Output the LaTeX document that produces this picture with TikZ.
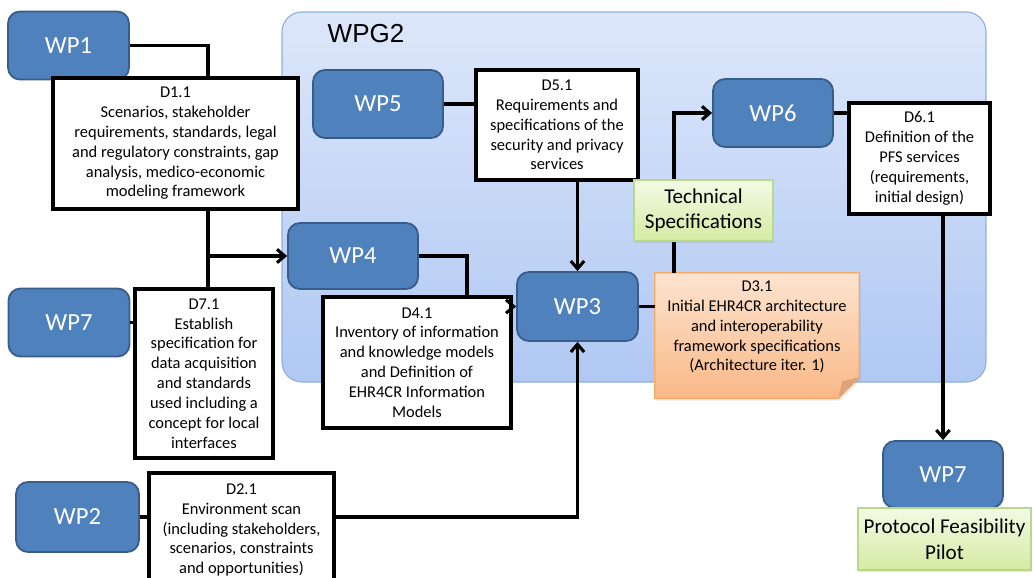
\documentclass[tikz,border=0pt]{standalone}
\usepackage{fontspec}
\setmainfont{Carlito}
\newfontfamily\groupfont{Liberation Sans}
\usetikzlibrary{calc}
\usetikzlibrary{arrows.meta}
\usetikzlibrary{shadows}

\definecolor{wpblue}{HTML}{4F81BD}
\definecolor{wpedge}{HTML}{385D8A}
\definecolor{grouptop}{HTML}{DDE7FA}
\definecolor{groupbot}{HTML}{B0C8F3}
\definecolor{groupedge}{HTML}{8DB0E0}
\definecolor{notetop}{HTML}{FDE4CF}
\definecolor{notebot}{HTML}{F9B887}
\definecolor{noteedge}{HTML}{F5A868}
\definecolor{notefold}{HTML}{DDA479}
\definecolor{spectop}{HTML}{F3FAE5}
\definecolor{specbot}{HTML}{D4EBA3}
\definecolor{specedge}{HTML}{B8D98A}

\newcommand{\pxu}{0.025cm}

\tikzset{
  wp/.style={draw=wpedge, line width=1.3pt, fill=wpblue, rounded corners=0.3cm,
    text=white, font=\fontsize{17.5}{21}\selectfont,
    minimum width=121*\pxu, minimum height=68*\pxu},
  deliv/.style={draw=black, line width=2.3pt, fill=white, align=center,
    inner sep=2pt, font=\fontsize{11.7}{14.1}\selectfont},
  result/.style={draw=specedge, line width=0.8pt, top color=spectop, bottom color=specbot,
    align=center, font=\fontsize{15}{18.2}\selectfont,
    drop shadow={opacity=0.2, shadow xshift=1pt, shadow yshift=-1.5pt}},
  link/.style={line width=2.2pt},
  feed/.style={line width=2.2pt, -{Straight Barb[length=5.5pt,width=9.5pt]}},
}

\begin{document}
\begin{tikzpicture}[x=\pxu, y=-\pxu]
\useasboundingbox (0,0) rectangle (1033,578);

% Group WPG2
\node[draw=groupedge, line width=0.8pt, rounded corners=0.5cm, top color=grouptop, bottom color=groupbot,
  minimum width=704*\pxu, minimum height=370*\pxu] (wpg2) at (634,197) {};
\node[font=\groupfont\fontsize{18.5}{22}\selectfont] (wpg2label) at (366,34) {WPG2};

% Work packages
\node[wp] (wp1) at (68.5,45.5) {WP1};
\node[wp] (wp7a) at (69,322.5) {WP7};
\node[wp, minimum width=123*\pxu, minimum height=70*\pxu] (wp2) at (77.5,517) {WP2};
\node[wp, minimum width=130*\pxu, minimum height=66*\pxu] (wp4) at (353,256) {WP4};
\node[wp, minimum width=130*\pxu] (wp5) at (378,104) {WP5};
\node[wp, minimum height=69*\pxu] (wp3) at (577.5,306.5) {WP3};
\node[wp, minimum width=120*\pxu] (wp6) at (773,113) {WP6};
\node[wp, minimum width=120*\pxu, minimum height=67*\pxu] (wp7b) at (943,474.5) {WP7};

% Deliverables
\node[deliv, minimum width=245*\pxu, minimum height=131*\pxu] (d11) at (175.5,143.5)
  {D1.1\\Scenarios, stakeholder\\requirements, standards, legal\\and regulatory constraints, gap\\analysis, medico-economic\\modeling framework};
\node[deliv, minimum width=138*\pxu, minimum height=169*\pxu] (d71) at (204,373.5)
  {D7.1\\Establish\\specification for\\data acquisition\\and standards\\used including a\\concept for local\\interfaces};
\node[deliv, minimum width=188*\pxu, minimum height=131*\pxu] (d41) at (417,362.5)
  {D4.1\\Inventory of information\\and knowledge models\\and Definition of\\EHR4CR Information\\Models};
\node[deliv, minimum width=162*\pxu, minimum height=110*\pxu] (d51) at (557,125)
  {D5.1\\Requirements and\\specifications of the\\security and privacy\\services};
\node[deliv, minimum width=141*\pxu, minimum height=111*\pxu] (d61) at (919.5,158.5)
  {D6.1\\Definition of the\\PFS services\\(requirements,\\initial design)};
\node[deliv, minimum width=185*\pxu, minimum height=114*\pxu] (d21) at (241.5,530)
  {D2.1\\Environment scan\\(including stakeholders,\\scenarios, constraints\\and opportunities)};

% Note D3.1
\node[minimum width=204*\pxu, minimum height=125*\pxu] (d31) at (757,335.5) {};
\path[draw=noteedge, line width=0.8pt, top color=notetop, bottom color=notebot,
  drop shadow={opacity=0.2, shadow xshift=1pt, shadow yshift=-1.5pt}]
  (d31.north west) -- (d31.north east) -- ($(d31.south east)+(0,-21)$)
  -- ($(d31.south east)+(-21,0)$) -- (d31.south west) -- cycle;
\fill[notefold] ($(d31.south east)+(0,-21)$) -- ($(d31.south east)+(-21,0)$)
  -- ($(d31.south east)+(-17,-17)$) -- cycle;
\node[align=center, font=\fontsize{11.7}{14.1}\selectfont] (d31text) at (757,327)
  {D3.1\\Initial EHR4CR architecture\\and interoperability\\framework specifications\\(Architecture iter. 1)};

% Connectors
\coordinate (split) at (208,256);
\coordinate (d41in) at (467,297);
\coordinate (techup) at (674,273);
\draw[link] (wp1.east) -| (split |- d11.north);
\draw[link] (split |- d11.south) -- (split |- d71.north);
\draw[feed] (split |- wp4.west) -- (wp4.west);
\draw[link] (wp7a.east) -- (wp7a.east -| d71.west);
\draw[link] (wp2.east) -- (wp2.east -| d21.west);
\draw[feed] (wp2.east -| d21.east) -| (wp3.south);
\draw[link] (wp4.east) -| (d41in);
\draw[feed] (d41.east |- wp3.west) -- (wp3.west);
\draw[link] (wp5.east) -- (wp5.east -| d51.west);
\draw[feed] (wp3.north |- d51.south) -- (wp3.north);
\draw[link] (wp3.east) -- (wp3.east -| d31.west);
\draw[feed] (techup) |- (wp6.west);
\draw[link] (wp6.east) -- (wp6.east -| d61.west);
\draw[feed] (wp7b.north |- d61.south) -- (wp7b.north);

% Results
\node[result, minimum width=139*\pxu, minimum height=61*\pxu] (tspec) at (703.5,210.5)
  {Technical\\Specifications};
\node[result, minimum width=173*\pxu, minimum height=62*\pxu] (pilot) at (944.5,539)
  {Protocol Feasibility\\Pilot};

\end{tikzpicture}
\end{document}
